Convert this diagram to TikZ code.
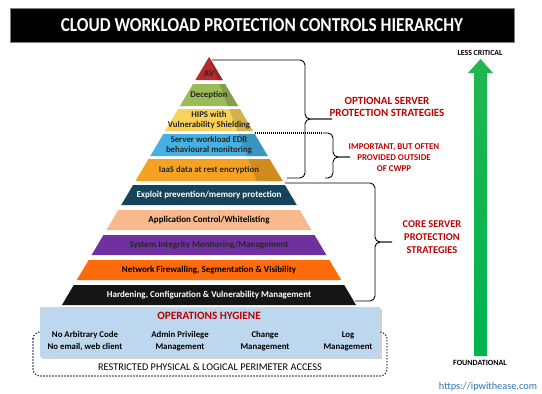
\documentclass[tikz,border=0pt]{standalone}
\usepackage{fontspec}
\setmainfont{Carlito}
\usepackage{graphicx}
\usetikzlibrary{shadows}
\definecolor{avred}{HTML}{B52A2A}
\definecolor{decgreen}{HTML}{9BBB59}
\definecolor{hipsyellow}{HTML}{FAD25A}
\definecolor{edrblue}{HTML}{45B0E1}
\definecolor{iaasorange}{HTML}{F5A223}
\definecolor{exploitteal}{HTML}{17435A}
\definecolor{apppeach}{HTML}{F8B98C}
\definecolor{sysviolet}{HTML}{7030A0}
\definecolor{netorange}{HTML}{FF6A0A}
\definecolor{hardblack}{HTML}{151515}
\definecolor{hygieneblue}{HTML}{BDD7EE}
\definecolor{stratred}{HTML}{C00000}
\definecolor{dotnavy}{HTML}{1F2A5A}
\definecolor{arrowtop}{HTML}{22B650}
\definecolor{arrowmid}{HTML}{0E7A3A}
\definecolor{arrowbot}{HTML}{00B450}
\definecolor{urlblue}{HTML}{2E75B6}

\begin{document}
\begin{tikzpicture}[x=1pt,y=-1pt,
    layertext/.style={font=\bfseries\fontsize{9}{10.5}\selectfont, align=center, inner sep=0pt},
    uppertext/.style={font=\bfseries\fontsize{8.8}{10.5}\selectfont, align=center, inner sep=0pt, text=black!85},
    strat/.style={text=stratred, font=\bfseries\fontsize{11}{12.5}\selectfont, align=center, inner sep=0pt},
    bracket/.style={draw=black, line width=0.9pt, rounded corners=5pt},
    hygtext/.style={font=\bfseries\fontsize{8.8}{12}\selectfont, align=center, inner sep=0pt},
    perimeter/.style={draw=dotnavy, line width=1.7pt, dash pattern=on 0pt off 3pt, line cap=round, rounded corners=7pt},
    axislabel/.style={font=\bfseries\fontsize{7.8}{9}\selectfont, inner sep=0pt}]
    \useasboundingbox[fill=white] (0,0) rectangle (542,394);

    % title bar
    \node[fill=black, draw=gray, minimum width=504, minimum height=34, inner sep=0pt, text=white,
        font=\bfseries\fontsize{17.2}{19}\selectfont] (title) at (262,25)
        {\scalebox{1}[1.15]{CLOUD WORKLOAD PROTECTION CONTROLS HIERARCHY}};

    % upper layers, with a darker right side
    \foreach \ytop/\ybot/\col/\nm/\ty/\lbl in {
        57/80/avred/av/74/AV,
        84/106/decgreen/deception/95/Deception,
        109/131/hipsyellow/hips/120/{HIPS with\\Vulnerability Shielding},
        134/156/edrblue/edr/145/{Server workload EDR\\behavioural monitoring},
        159/181/iaasorange/iaas/170/{IaaS data at rest encryption}}{
        \pgfmathsetmacro\wt{0.593*(\ytop-57)}
        \pgfmathsetmacro\wb{0.593*(\ybot-57)}
        \fill[\col] (209-\wt,\ytop) -- (209+\wt,\ytop) -- (209+\wb,\ybot) -- (209-\wb,\ybot) -- cycle;
        \fill[\col!85!black] (209+0.65*\wt,\ytop) -- (209+\wt,\ytop) -- (209+\wb,\ybot) -- (209+0.65*\wb,\ybot) -- cycle;
        \node[uppertext] (\nm) at (209,\ty) {\lbl};
    }

    % core layers
    \foreach \ytop/\ybot/\col/\tcol/\nm/\lbl in {
        185/205/exploitteal/white/exploit/{Exploit prevention/memory protection},
        210/230/apppeach/black/appctrl/{Application Control/Whitelisting},
        235/255/sysviolet/black!85/sysint/{System Integrity Monitoring/Management},
        260/280/netorange/black/netfw/{Network Firewalling, Segmentation \& Visibility},
        285/305/hardblack/white/harden/{Hardening, Configuration \& Vulnerability Management}}{
        \pgfmathsetmacro\wt{0.593*(\ytop-57)}
        \pgfmathsetmacro\wb{0.593*(\ybot-57)}
        \fill[\col] (209-\wt,\ytop) -- (209+\wt,\ytop) -- (209+\wb,\ybot) -- (209-\wb,\ybot) -- cycle;
        \node[layertext, text=\tcol] (\nm) at (209,{(\ytop+\ybot)/2}) {\lbl};
    }

    % braces
    \draw[bracket] (212,60) -- (305,60) -- (305,119) -- (332,119);
    \draw[bracket] (287,178) -- (305,178) -- (305,119) -- (332,119);
    \draw[line width=1.1pt, dash pattern=on 1pt off 1pt] (255,133) -- (323,133);
    \draw[bracket] (323,133) -- (333,133) -- (333,157) -- (350,157);
    \draw[bracket] (325,178) -- (333,178) -- (333,157) -- (350,157);
    \draw[bracket] (285,183) -- (375,183) -- (375,242) -- (392,242);
    \draw[bracket] (355,301) -- (375,301) -- (375,242) -- (392,242);

    \node[strat] (optional) at (387,107) {OPTIONAL SERVER\\PROTECTION STRATEGIES};
    \node[strat, font=\bfseries\fontsize{8.9}{11}\selectfont] (outside) at (394,158) {IMPORTANT,\ BUT OFTEN\\PROVIDED OUTSIDE\\OF CWPP};
    \node[strat, font=\bfseries\fontsize{10.4}{13}\selectfont] (core) at (432,237) {CORE SERVER\\PROTECTION\\STRATEGIES};

    % operations hygiene
    \draw[perimeter] (33,332) rectangle (387,376);
    \node[fill=hygieneblue, minimum width=340, minimum height=50, inner sep=0pt,
        drop shadow={shadow xshift=1.5pt, shadow yshift=-1.5pt, opacity=0.35}] (hygiene) at (210,332) {};
    \node[text=stratred, font=\bfseries\fontsize{11.2}{13}\selectfont, inner sep=0pt] (hygtitle) at (209,316) {OPERATIONS HYGIENE};
    \foreach \cx/\nm/\lbl in {85/nocode/{No Arbitrary Code\\No email, web client},
        180/admin/{Admin Privilege\\Management},
        265/change/{Change\\Management},
        348/logmgmt/{Log\\Management}}{
        \node[hygtext] (\nm) at (\cx,341) {\lbl};
    }
    \node[font=\fontsize{10.3}{12}\selectfont, inner sep=0pt] (restricted) at (210,367) {RESTRICTED PHYSICAL \& LOGICAL PERIMETER ACCESS};

    % criticality arrow
    \shade[top color=arrowtop, middle color=arrowmid, bottom color=arrowbot]
        (474,356) -- (474,73) -- (468,73) -- (480.5,59) -- (493,73) -- (487,73) -- (487,356) -- cycle;
    \node[axislabel] (less) at (480,53) {LESS CRITICAL};
    \node[axislabel, font=\bfseries\fontsize{8}{9}\selectfont] (found) at (480,363) {FOUNDATIONAL};
    \node[text=urlblue, font=\fontsize{10.3}{12}\selectfont, inner sep=0pt] (url) at (488,387) {https://ipwithease.com};
\end{tikzpicture}
\end{document}
